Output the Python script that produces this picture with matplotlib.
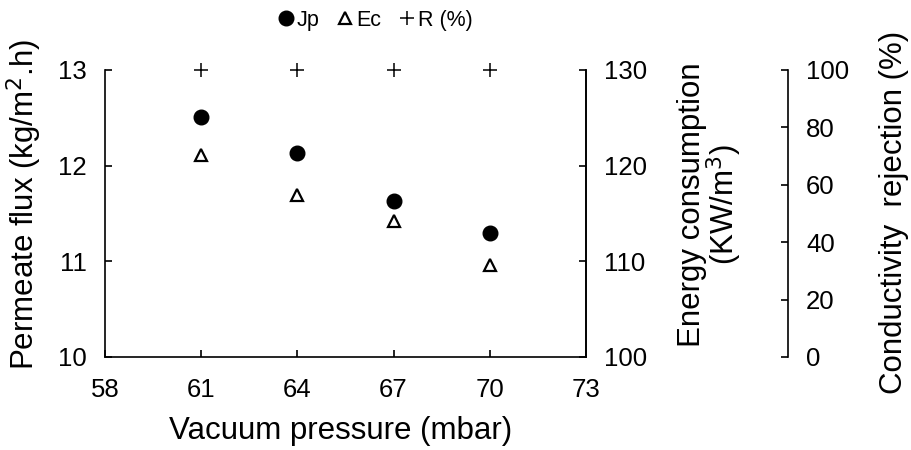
import matplotlib
matplotlib.use("Agg")
import matplotlib.pyplot as plt

plt.rcParams['font.family'] = ['Liberation Sans', 'DejaVu Sans']

# vacuum pressure (mbar)
pressure = [61, 64, 67, 70]
# permeate flux (kg/m2.h)
flux = [12.51, 12.13, 11.63, 11.30]
# energy consumption (KW/m3)
energy = [121.1, 116.9, 114.2, 109.6]
# conductivity rejection (%)
rejection = [100, 100, 100, 100]

fig = plt.figure(figsize=(9.12, 4.5), dpi=100)
ax = fig.add_axes([0.1150, 0.2067, 0.5275, 0.6378])
ax2 = ax.twinx()
ax3 = ax.twinx()
ax3.spines['right'].set_position(('axes', 1.42))

for a in (ax, ax2, ax3):
    a.spines['top'].set_visible(False)
    a.tick_params(direction='in', length=5, width=1.2, labelsize=18.5, pad=13)
ax.tick_params(axis='x', pad=15)
for s in ax.spines.values():
    s.set_linewidth(1.2)
ax2.spines['right'].set_linewidth(1.2)
ax3.spines['right'].set_linewidth(1.2)
ax3.spines['left'].set_visible(False)
ax3.spines['bottom'].set_visible(False)
ax2.spines['left'].set_visible(False)
ax2.spines['bottom'].set_visible(False)

h1, = ax.plot(pressure, flux, 'o', color='black', markersize=10.5, linestyle='none', label='Jp')
h2, = ax2.plot(pressure, energy, '^', markerfacecolor='white', markeredgecolor='black',
               markeredgewidth=1.6, markersize=9, linestyle='none', label='Ec')
h3, = ax3.plot(pressure, rejection, '+', color='black', markersize=10, markeredgewidth=1.1,
               linestyle='none', label='R (%)', clip_on=False)

ax.set_xlim(58, 73)
ax.set_xticks([58, 61, 64, 67, 70, 73])
ax.set_ylim(10, 13)
ax.set_yticks([10, 11, 12, 13])
ax2.set_ylim(100, 130)
ax2.set_yticks([100, 110, 120, 130])
ax3.set_ylim(0, 100)
ax3.set_yticks([0, 20, 40, 60, 80, 100])

ax.set_xlabel('Vacuum pressure (mbar)', fontsize=22.5)
ax.set_ylabel('Permeate flux (kg/m$^2$.h)', fontsize=22.5)
ax2.set_ylabel('Energy consumption\n(KW/m$^3$)', fontsize=22.5, linespacing=0.9)
ax3.set_ylabel('Conductivity  rejection (%)', fontsize=22.5)
ax.xaxis.set_label_coords(0.49, -0.205)
ax.yaxis.set_label_coords(-0.127, 0.53)
ax2.yaxis.set_label_coords(1.19, 0.53)
ax3.yaxis.set_label_coords(1.609, 0.505)

fig.legend(handles=[h1, h2, h3], loc='center', bbox_to_anchor=(0.41, 0.955), ncol=3,
           frameon=False, fontsize=15.5, handletextpad=0.0, columnspacing=0.7,
           handlelength=1.0, markerscale=1.0)

fig.savefig('out.png', dpi=100)
